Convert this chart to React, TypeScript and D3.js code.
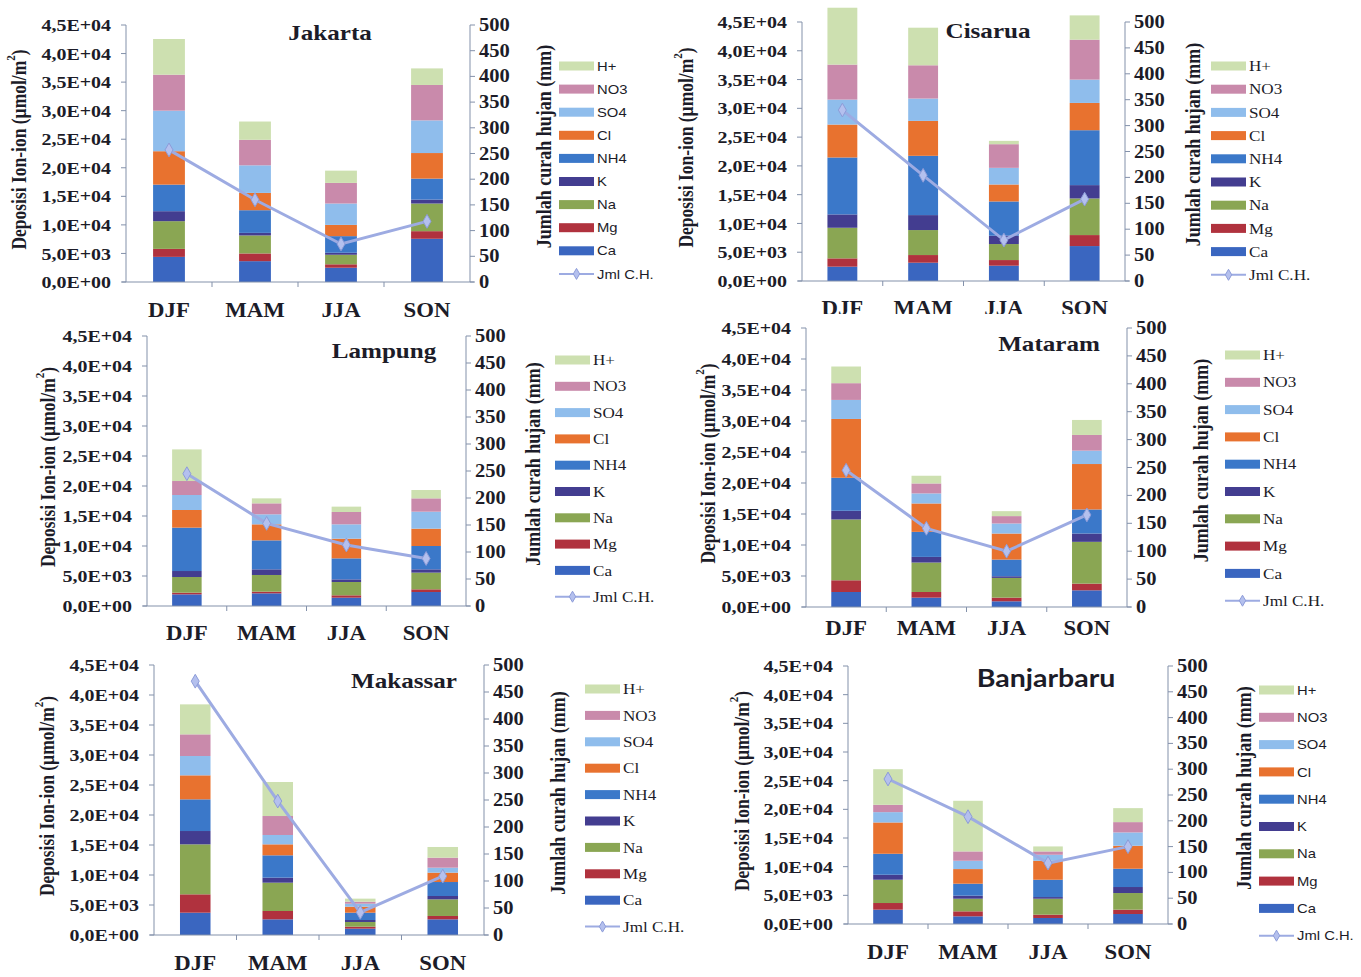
import React from 'react';
import * as d3 from 'd3';

const seasons = ['DJF', 'MAM', 'JJA', 'SON'];
const ions = ['Ca', 'Mg', 'Na', 'K', 'NH4', 'Cl', 'SO4', 'NO3', 'H+'];
const ionColors = ['#3a66c0', '#b0323e', '#8aa653', '#433d90', '#3b78c9', '#e8722f', '#8fbdec', '#c98aab', '#cde0b0'];
const leftTicks = [0, 5000, 10000, 15000, 20000, 25000, 30000, 35000, 40000, 45000];
const rightTicks = [0, 50, 100, 150, 200, 250, 300, 350, 400, 450, 500];

// rows: Ca, Mg, Na, K, NH4, Cl, SO4, NO3, H+ ; columns: DJF, MAM, JJA, SON
const jakartaIons = [
  [4400, 3650, 2500, 7570],
  [1400, 1350, 600, 1330],
  [4850, 3150, 1670, 4840],
  [1750, 450, 350, 690],
  [4650, 3970, 2910, 3670],
  [5850, 3030, 1970, 4480],
  [7100, 4830, 3740, 5720],
  [6300, 4470, 3610, 6200],
  [6250, 3200, 2150, 2900],
];
const jakartaRain = [257, 160, 74, 118];

const cisaruaIons = [
  [2490, 3180, 2660, 6070],
  [1440, 1330, 980, 1910],
  [5320, 4340, 2780, 6360],
  [2320, 2600, 1450, 2320],
  [9890, 10300, 5950, 9540],
  [5720, 6070, 2950, 4740],
  [4340, 3880, 2890, 4050],
  [6080, 5780, 4110, 6940],
  [9880, 6530, 580, 4220],
];
const cisaruaRain = [330, 204, 79, 158];

const lampungIons = [
  [1940, 2110, 1390, 2330],
  [280, 280, 390, 450],
  [2610, 2780, 2220, 2780],
  [1000, 940, 440, 550],
  [7230, 4830, 3500, 3890],
  [2940, 2670, 3280, 2890],
  [2500, 1670, 2390, 2830],
  [2330, 1830, 2060, 2220],
  [5270, 830, 890, 1390],
];
const lampungRain = [245, 153, 113, 88];

const mataramIons = [
  [2420, 1510, 920, 2690],
  [1890, 910, 590, 1080],
  [9810, 4750, 3180, 6740],
  [1400, 910, 270, 1340],
  [5330, 4040, 2690, 3880],
  [9480, 4580, 4200, 7330],
  [3070, 1620, 1620, 2160],
  [2700, 1610, 1190, 2530],
  [2690, 1240, 800, 2420],
];
const mataramRain = [245, 141, 100, 165];

const makassarIons = [
  [3720, 2610, 1060, 2610],
  [3060, 1390, 330, 560],
  [8330, 4720, 780, 2770],
  [2220, 840, 330, 560],
  [5280, 3720, 1220, 2330],
  [4000, 1830, 1000, 1560],
  [3220, 1560, 500, 830],
  [3610, 3160, 340, 1670],
  [5000, 5670, 500, 1780],
];
const makassarRain = [470, 248, 42, 109];

const banjarbaruIons = [
  [2500, 1340, 1050, 1740],
  [1160, 870, 580, 760],
  [4060, 2200, 2780, 2900],
  [870, 530, 290, 1050],
  [3660, 2090, 3020, 3190],
  [5460, 2550, 3310, 4010],
  [1800, 1450, 1050, 2320],
  [1280, 1630, 580, 1800],
  [6210, 8830, 870, 2440],
];
const banjarbaruRain = [281, 208, 118, 150];

const SERIF = '"Liberation Serif", "Times New Roman", serif';
const SANS = '"Liberation Sans", Arial, sans-serif';
const LATO = 'Lato, "Open Sans", sans-serif';

type Cfg = {
  name: string; xL: number; xR: number; y0: number; yTop: number;
  titleX: number; titleY: number; titleFont: string; titleSize: number;
  legX: number; legY: number; legStep: number; legFont: string; legSize: number;
  catY: number; leftLabX: number; rightLabX: number; clipH?: number;
};

const panels: { cfg: Cfg; data: number[][]; rain: number[] }[] = [
  { cfg: { name: 'Jakarta', xL: 126, xR: 470, y0: 282, yTop: 25, titleX: 330, titleY: 33, titleFont: SERIF, titleSize: 22, legX: 559, legY: 66, legStep: 23.1, legFont: SANS, legSize: 13, catY: 310, leftLabX: 19, rightLabX: 544 }, data: jakartaIons, rain: jakartaRain },
  { cfg: { name: 'Cisarua', xL: 802, xR: 1125, y0: 281, yTop: 22, titleX: 988, titleY: 31, titleFont: SERIF, titleSize: 22, legX: 1211, legY: 66, legStep: 23.2, legFont: SERIF, legSize: 15, catY: 308, leftLabX: 686, rightLabX: 1193, clipH: 314 }, data: cisaruaIons, rain: cisaruaRain },
  { cfg: { name: 'Lampung', xL: 147, xR: 466, y0: 606, yTop: 336, titleX: 384, titleY: 351, titleFont: SERIF, titleSize: 22, legX: 555, legY: 360, legStep: 26.3, legFont: SERIF, legSize: 15, catY: 633, leftLabX: 48, rightLabX: 533 }, data: lampungIons, rain: lampungRain },
  { cfg: { name: 'Mataram', xL: 806, xR: 1127, y0: 607, yTop: 328, titleX: 1049, titleY: 344, titleFont: SERIF, titleSize: 22, legX: 1225, legY: 355, legStep: 27.3, legFont: SERIF, legSize: 15, catY: 628, leftLabX: 708, rightLabX: 1201 }, data: mataramIons, rain: mataramRain },
  { cfg: { name: 'Makassar', xL: 154, xR: 484, y0: 935, yTop: 665, titleX: 404, titleY: 681, titleFont: SERIF, titleSize: 22, legX: 585, legY: 689, legStep: 26.4, legFont: SERIF, legSize: 15, catY: 963, leftLabX: 47, rightLabX: 558 }, data: makassarIons, rain: makassarRain },
  { cfg: { name: 'Banjarbaru', xL: 848, xR: 1168, y0: 924, yTop: 666, titleX: 1046, titleY: 678, titleFont: LATO, titleSize: 25, legX: 1259, legY: 690, legStep: 27.3, legFont: SANS, legSize: 13, catY: 952, leftLabX: 742, rightLabX: 1244 }, data: banjarbaruIons, rain: banjarbaruRain },
];

function sci(v: number): string {
  if (v === 0) return '0,0E+00';
  const e = Math.floor(Math.log10(v));
  const m = v / Math.pow(10, e);
  return `${m.toFixed(1).replace('.', ',')}E+${String(e).padStart(2, '0')}`;
}

const AXIS = '#8391aa';
const LINE = '#9dabe2';
const TXT = '#1c1c28';
const SX = 1.14; // horizontal stretch of the scanned figure's lettering

function Panel({ cfg, data, rain, idx }: { cfg: Cfg; data: number[][]; rain: number[]; idx: number }) {
  const x = d3.scaleBand<string>().domain(seasons).range([cfg.xL, cfg.xR]).paddingInner(0.63).paddingOuter(0.315);
  const y = d3.scaleLinear().domain([0, 45000]).range([cfg.y0, cfg.yTop]);
  const yR = d3.scaleLinear().domain([0, 500]).range([cfg.y0, cfg.yTop]);
  const table = seasons.map((s, j) => {
    const o: any = { season: s };
    ions.forEach((ion, i) => { o[ion] = data[i][j]; });
    return o;
  });
  const series = d3.stack<any>().keys(ions)(table);
  const cx = (s: string) => (x(s) as number) + x.bandwidth() / 2;
  const line = d3.line<number>().x((_, i) => cx(seasons[i])).y(d => yR(d));
  const diamond = d3.symbol().type(d3.symbolDiamond).size(55)() as string;
  const step = x.step();
  const midY = (cfg.y0 + cfg.yTop) / 2;
  const clipId = `clip${idx}`;
  const legendItems = ions.map((n, i) => ({ n, c: ionColors[i] })).reverse();
  const tr = (tx: number, ty: number) => `translate(${tx},${ty}) scale(${SX},1)`;

  return (
    <g clipPath={cfg.clipH ? `url(#${clipId})` : undefined}>
      {cfg.clipH && (
        <defs>
          <clipPath id={clipId}>
            <rect x={cfg.xL - 200} y={-20} width={800} height={cfg.clipH + 20} />
          </clipPath>
        </defs>
      )}
      {series.map((s, i) => (
        <g key={s.key} fill={ionColors[i]}>
          {s.map((d, j) => (
            <rect key={j} x={x(seasons[j])} width={x.bandwidth()} y={y(d[1])} height={y(d[0]) - y(d[1])} />
          ))}
        </g>
      ))}
      <line x1={cfg.xL} x2={cfg.xL} y1={cfg.y0} y2={cfg.yTop} stroke={AXIS} strokeWidth={1} />
      <line x1={cfg.xR} x2={cfg.xR} y1={cfg.y0} y2={cfg.yTop} stroke={AXIS} strokeWidth={1} />
      <line x1={cfg.xL - 4} x2={cfg.xR + 4} y1={cfg.y0} y2={cfg.y0} stroke={AXIS} strokeWidth={1} />
      {[1, 2, 3].map(k => (
        <line key={k} x1={cfg.xL + k * step} x2={cfg.xL + k * step} y1={cfg.y0} y2={cfg.y0 + 5} stroke={AXIS} />
      ))}
      {leftTicks.map(t => (
        <g key={t}>
          <line x1={cfg.xL - 5} x2={cfg.xL} y1={y(t)} y2={y(t)} stroke={AXIS} />
          <text transform={tr(cfg.xL - 15, y(t))} textAnchor="end" dominantBaseline="central" fontFamily={SERIF} fontWeight="bold" fontSize={17.5} fill={TXT}>{sci(t)}</text>
        </g>
      ))}
      {rightTicks.map(t => (
        <g key={t}>
          <line x1={cfg.xR} x2={cfg.xR + 5} y1={yR(t)} y2={yR(t)} stroke={AXIS} />
          <text transform={tr(cfg.xR + 9, yR(t))} dominantBaseline="central" fontFamily={SERIF} fontWeight="bold" fontSize={18} fill={TXT}>{t}</text>
        </g>
      ))}
      {seasons.map(s => (
        <text key={s} transform={tr(cx(s), cfg.catY)} textAnchor="middle" dominantBaseline="central" fontFamily={SERIF} fontWeight="bold" fontSize={20} fill={TXT}>{s}</text>
      ))}
      <path d={line(rain) as string} fill="none" stroke={LINE} strokeWidth={3} />
      {rain.map((r, i) => (
        <path key={i} d={diamond} transform={`translate(${cx(seasons[i])},${yR(r)})`} fill="#b4c0ee" stroke="#8d9cd9" strokeWidth={1} />
      ))}
      <text transform={tr(cfg.titleX, cfg.titleY)} textAnchor="middle" dominantBaseline="central" fontFamily={cfg.titleFont} fontWeight="bold" fontSize={cfg.titleSize} fill={TXT}>{cfg.name}</text>
      <text transform={`translate(${cfg.leftLabX},${midY - 4}) rotate(-90) scale(1,${SX})`} textAnchor="middle" dominantBaseline="central" fontFamily={SERIF} fontWeight="bold" fontSize={17.5} fill={TXT}>
        Deposisi Ion-ion (µmol/m<tspan fontSize={11} dy={-7}>2</tspan><tspan dy={7}>)</tspan>
      </text>
      <text transform={`translate(${cfg.rightLabX},${midY - 7}) rotate(-90) scale(1,${SX})`} textAnchor="middle" dominantBaseline="central" fontFamily={SERIF} fontWeight="bold" fontSize={18} fill={TXT}>
        Jumlah curah hujan (mm)
      </text>
      {legendItems.map((it, i) => (
        <g key={it.n}>
          <rect x={cfg.legX} y={cfg.legY + i * cfg.legStep - 4.5} width={35} height={9} fill={it.c} />
          <text transform={tr(cfg.legX + 38, cfg.legY + i * cfg.legStep)} dominantBaseline="central" fontFamily={cfg.legFont} fontSize={cfg.legSize} fill={TXT}>{it.n}</text>
        </g>
      ))}
      <g>
        <line x1={cfg.legX} x2={cfg.legX + 35} y1={cfg.legY + 9 * cfg.legStep} y2={cfg.legY + 9 * cfg.legStep} stroke={LINE} strokeWidth={2} />
        <path d={d3.symbol().type(d3.symbolDiamond).size(35)() as string} transform={`translate(${cfg.legX + 17.5},${cfg.legY + 9 * cfg.legStep})`} fill="#b4c0ee" stroke="#8d9cd9" />
        <text transform={tr(cfg.legX + 38, cfg.legY + 9 * cfg.legStep)} dominantBaseline="central" fontFamily={cfg.legFont} fontSize={cfg.legSize} fill={TXT}>Jml C.H.</text>
      </g>
    </g>
  );
}

export default function App() {
  return (
    <svg width={1361} height={977} style={{ position: 'absolute', left: 0, top: 0, background: '#fff' }}>
      <rect x={0} y={0} width={1361} height={977} fill="#fff" />
      {panels.map((p, i) => (
        <Panel key={p.cfg.name} cfg={p.cfg} data={p.data} rain={p.rain} idx={i} />
      ))}
    </svg>
  );
}
